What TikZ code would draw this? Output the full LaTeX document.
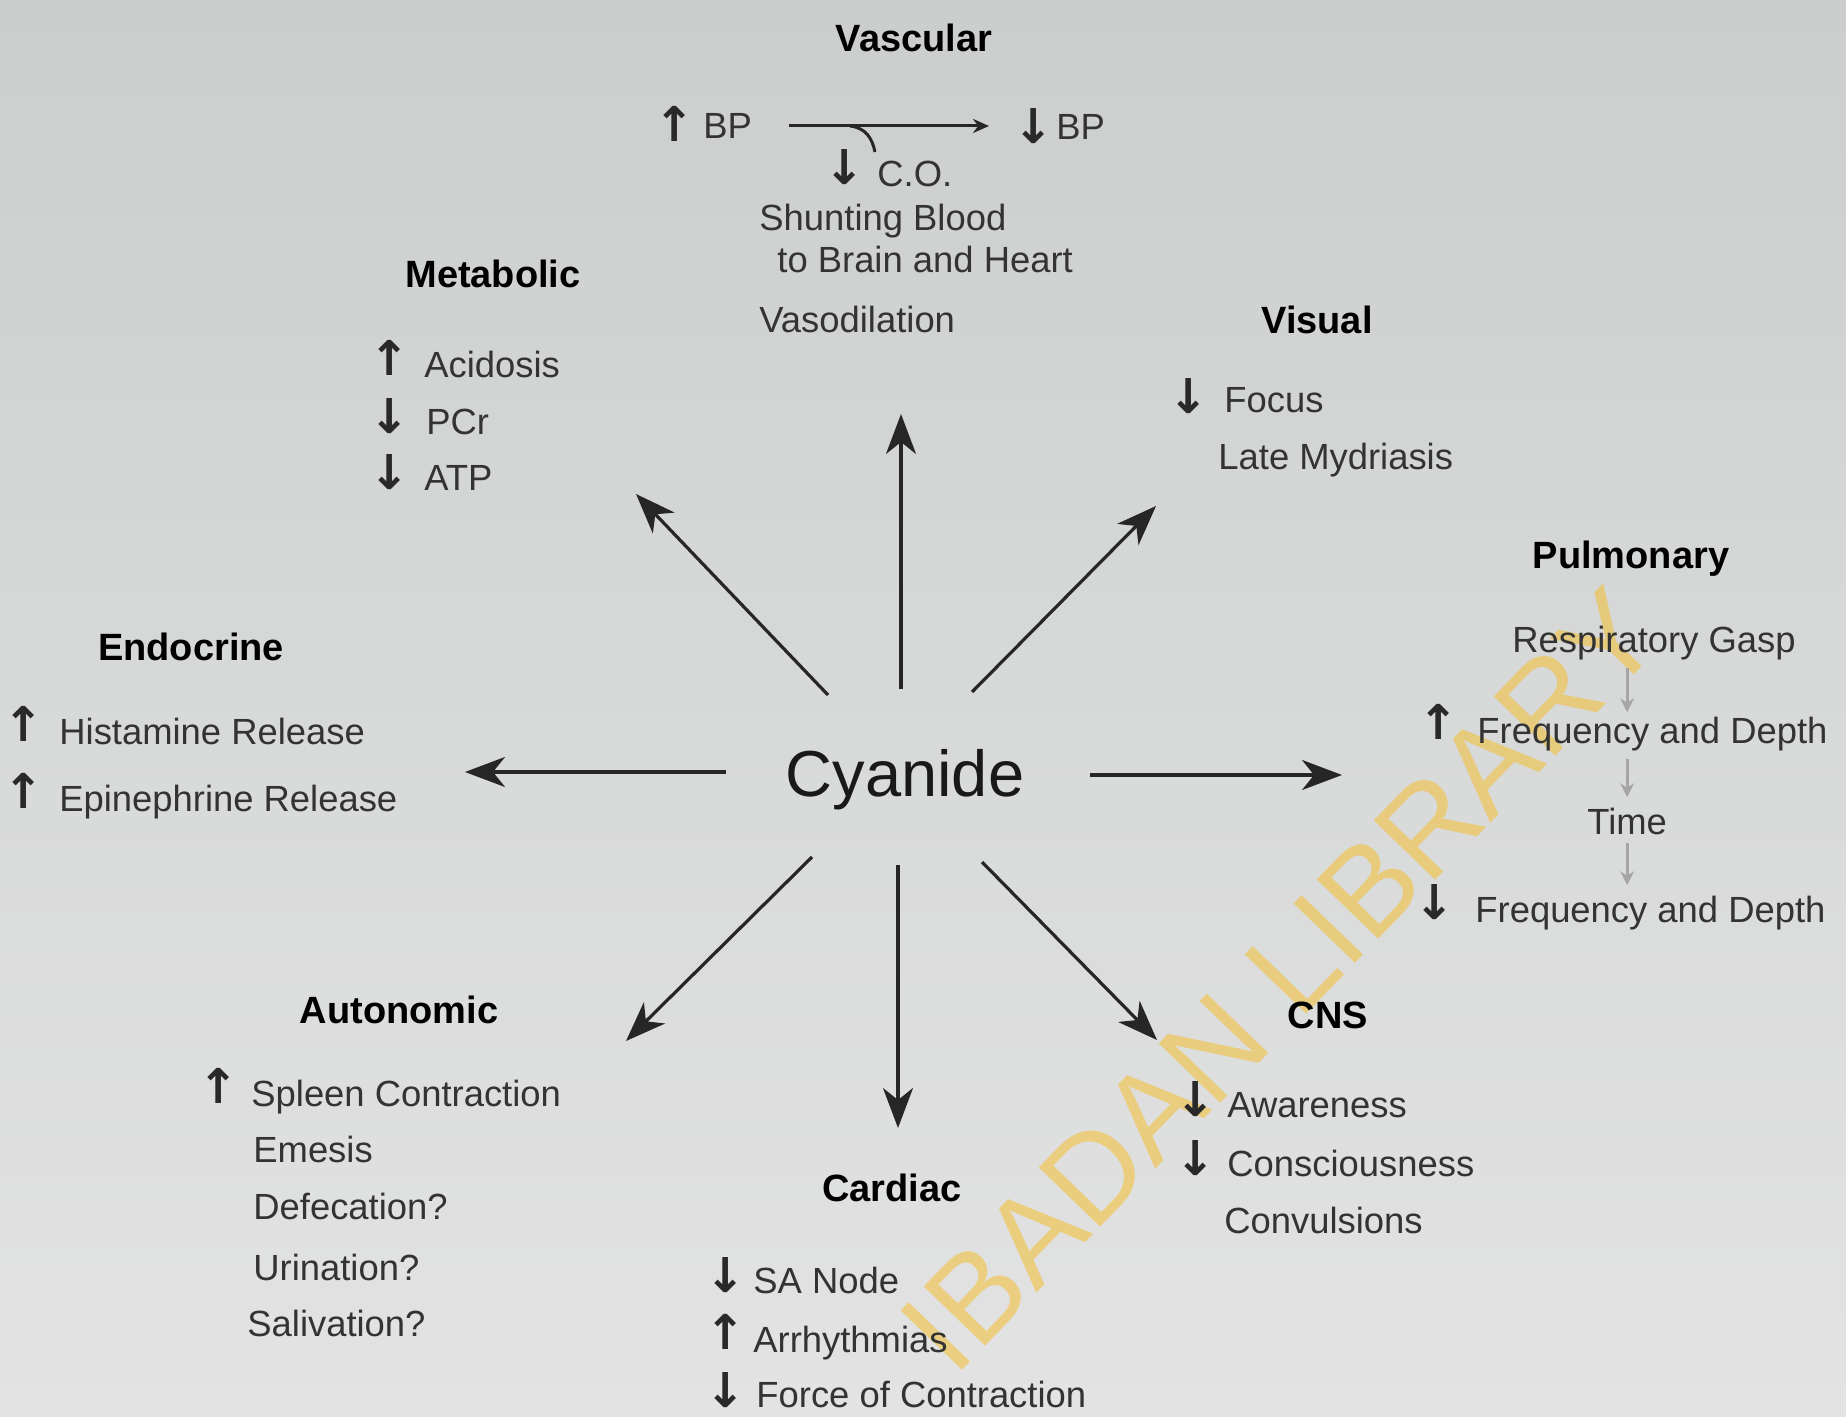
\documentclass[tikz,border=0pt]{standalone}
\usepackage{fontspec}
\setmainfont{Liberation Sans}
\newfontfamily\arrowfont{DejaVu Sans}
\usetikzlibrary{arrows.meta}
\definecolor{bgtop}{HTML}{CCCECE}
\definecolor{bgbot}{HTML}{E3E3E3}
\definecolor{itemgray}{HTML}{333333}
\definecolor{wmyellow}{HTML}{F2C23E}
\begin{document}
\begin{tikzpicture}[x=0.5pt,y=-0.5pt,
  item/.style={anchor=base west, inner sep=0pt, font=\fontsize{18.2pt}{20pt}\selectfont, text=itemgray},
  head/.style={anchor=base, inner sep=0pt, font=\fontsize{19pt}{21pt}\selectfont\bfseries, text=black},
  sym/.style={anchor=center, inner sep=0pt, font=\arrowfont\bfseries\fontsize{24pt}{26pt}\selectfont, text=itemgray!80!black},
  mainarrow/.style={line width=1.6pt, draw=black!85, -{Stealth[length=20pt,width=15pt,inset=6pt]}},
  vasc/.style={line width=1.5pt, draw=black!85},
  grayarrow/.style={line width=1.5pt, draw=black!35, -{Stealth[length=7pt,width=7pt]}},
]
\useasboundingbox (0,0) rectangle (1846,1417);
\fill[top color=bgtop, bottom color=bgbot] (0,0) rectangle (1846,1417);

% watermark
\node[rotate=46, text=wmyellow, opacity=0.6, inner sep=0pt, font=\fontsize{62pt}{62pt}\selectfont] (wm) at (1280,980) {IBADAN LIBRARY};

% centre
\node[anchor=base, inner sep=0pt, font=\fontsize{32.5pt}{34pt}\selectfont, text=black!90] (cy) at (905,796) {Cyanide};

% Vascular
\node[head] (hvasc) at (914,52) {Vascular};
\node[sym] (bpupar) at (675,124) {↑};
\node[item] (bpup) at (703,139) {BP};
\node[sym] (bpdnar) at (1034,126) {↓};
\node[item] (bpdn) at (1056,140) {BP};
\node[sym] (coar) at (845,167) {↓};
\node[item] (co) at (877,187) {C.O.};
\node[item] (shunt) at (759,231) {Shunting Blood};
\node[item] (brain) at (777,273) {to Brain and Heart};
\node[item] (vaso) at (759,333) {Vasodilation};
\coordinate (vs) at (789,126);
\coordinate (vm) at (850,126);
\coordinate (ve) at (989,126);
\coordinate (vb) at (875,152);
\draw[vasc] (vs) -- (vm);
\draw[vasc, -{Stealth[length=8pt,width=7pt]}] (vm) -- (ve);
\draw[vasc] (vm) .. controls (866,128) and (872,138) .. (vb);

% Metabolic
\node[head] (hmet) at (493,288) {Metabolic};
\node[sym] (acar) at (390,358) {↑};
\node[item] (acid) at (424,378) {Acidosis};
\node[sym] (pcar) at (390,416) {↓};
\node[item] (pcr) at (426,434) {PCr};
\node[sym] (atar) at (390,472) {↓};
\node[item] (atp) at (424,490) {ATP};

% Visual
\node[head] (hvis) at (1317,334) {Visual};
\node[sym] (foar) at (1189,396) {↓};
\node[item] (focus) at (1224,413) {Focus};
\node[item] (myd) at (1218,469) {Late Mydriasis};

% Pulmonary
\node[head] (hpul) at (1631,568) {Pulmonary};
\node[item] (gasp) at (1512,652) {Respiratory Gasp};
\node[sym] (f1ar) at (1439,722) {↑};
\node[item] (freq1) at (1477,743) {Frequency and Depth};
\node[item] (time) at (1587,834) {Time};
\node[sym] (f2ar) at (1435,902) {↓};
\node[item] (freq2) at (1475,922) {Frequency and Depth};
\draw[grayarrow] (time.center |- gasp.south) ++(0,8) -- ([yshift=2pt]time.center |- freq1.north);
\draw[grayarrow] ([yshift=-4pt]time.center |- freq1.south) -- ([yshift=5pt]time.north);
\draw[grayarrow] ([yshift=-4pt]time.south) -- ([yshift=5pt]time.center |- freq2.north);

% Endocrine
\node[head] (hend) at (191,660) {Endocrine};
\node[sym] (hiar) at (24,724) {↑};
\node[item] (hist) at (59,744) {Histamine Release};
\node[sym] (epar) at (24,791) {↑};
\node[item] (epi) at (59,811) {Epinephrine Release};

% Autonomic
\node[head] (haut) at (399,1023) {Autonomic};
\node[sym] (spar) at (219,1086) {↑};
\node[item] (spleen) at (251,1106) {Spleen Contraction};
\node[item] (emes) at (253,1162) {Emesis};
\node[item] (defe) at (253,1219) {Defecation?};
\node[item] (urin) at (253,1280) {Urination?};
\node[item] (sali) at (247,1336) {Salivation?};

% Cardiac
\node[head] (hcar) at (892,1201) {Cardiac};
\node[sym] (saar) at (726,1275) {↓};
\node[item] (sa) at (753,1293) {SA Node};
\node[sym] (arar) at (726,1332) {↑};
\node[item] (arr) at (753,1352) {Arrhythmias};
\node[sym] (fcar) at (726,1390) {↓};
\node[item] (force) at (756,1407) {Force of Contraction};

% CNS
\node[head] (hcns) at (1328,1028) {CNS};
\node[sym] (awar) at (1196,1099) {↓};
\node[item] (aware) at (1227,1117) {Awareness};
\node[sym] (cnar) at (1196,1158) {↓};
\node[item] (consc) at (1227,1176) {Consciousness};
\node[item] (conv) at (1224,1233) {Convulsions};

% main arrows
\coordinate (nS) at (901,689);   \coordinate (nE) at (901,414);
\coordinate (nwS) at (828,695);  \coordinate (nwE) at (636,494);
\coordinate (neS) at (972,692);  \coordinate (neE) at (1156,506);
\coordinate (wS) at (726,772);   \coordinate (wE) at (465,772);
\coordinate (eS) at (1090,775);  \coordinate (eE) at (1342,775);
\coordinate (swS) at (812,857);  \coordinate (swE) at (626,1041);
\coordinate (sS) at (898,865);   \coordinate (sE) at (898,1128);
\coordinate (seS) at (982,862);  \coordinate (seE) at (1157,1040);
\draw[mainarrow] (nS) -- (nE);
\draw[mainarrow] (nwS) -- (nwE);
\draw[mainarrow] (neS) -- (neE);
\draw[mainarrow] (wS) -- (wE);
\draw[mainarrow] (eS) -- (eE);
\draw[mainarrow] (swS) -- (swE);
\draw[mainarrow] (sS) -- (sE);
\draw[mainarrow] (seS) -- (seE);
\end{tikzpicture}
\end{document}
